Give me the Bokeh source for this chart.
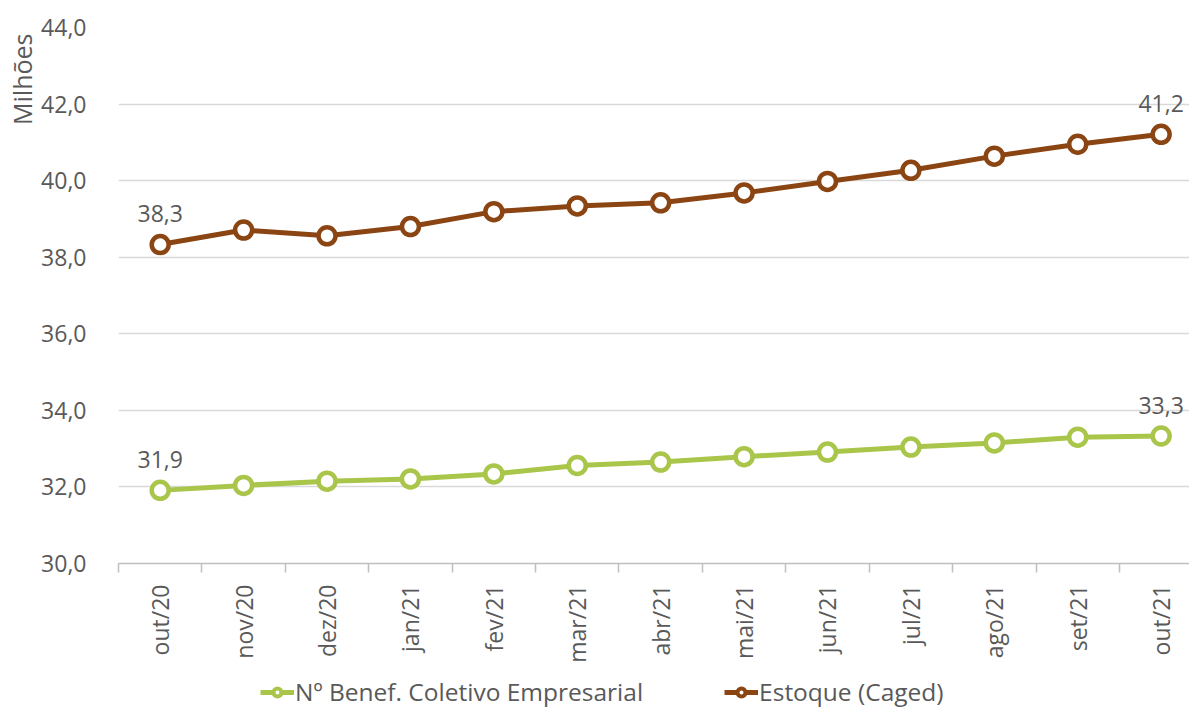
import math
from bokeh.plotting import figure
from bokeh.layouts import column
from bokeh.models import (ColumnDataSource, Range1d, FixedTicker, Legend, LegendItem, Title)
from bokeh.core.properties import value
from bokeh.embed import file_html
from bokeh.resources import INLINE

months = ["out/20", "nov/20", "dez/20", "jan/21", "fev/21", "mar/21", "abr/21",
          "mai/21", "jun/21", "jul/21", "ago/21", "set/21", "out/21"]
benef = [31.91, 32.04, 32.15, 32.21, 32.34, 32.56, 32.65, 32.79, 32.91, 33.04, 33.15, 33.30, 33.33]
estoque = [38.33, 38.71, 38.56, 38.80, 39.19, 39.34, 39.42, 39.68, 39.98, 40.27, 40.64, 40.95, 41.21]
y_ticks = [30, 32, 34, 36, 38, 40, 42, 44]
series_names = ["Nº Benef. Coletivo Empresarial", "Estoque (Caged)"]

FONT = "Open Sans"
TXT = "#595959"
GREEN = "#A9C54A"
BROWN = "#8B4513"
FS = "23px"

x = list(range(len(months)))

p = figure(width=1189, height=670, output_backend="svg", toolbar_location=None,
           x_range=Range1d(-0.5, 12.34), y_range=Range1d(30, 44),
           min_border_left=118, min_border_right=0, min_border_top=27,
           min_border_bottom=107)
p.outline_line_color = None
p.background_fill_color = "white"

# axes
p.xaxis.ticker = FixedTicker(ticks=x, minor_ticks=[i - 0.5 for i in range(len(months) + 1)])
p.xaxis.major_label_overrides = {i: m for i, m in enumerate(months)}
p.xaxis.major_label_orientation = math.pi / 2
p.xaxis.major_tick_line_color = None
p.xaxis.minor_tick_in = 0
p.xaxis.minor_tick_out = 9
p.xaxis.minor_tick_line_color = "#BFBFBF"
p.xaxis.minor_tick_line_width = 1.5
p.xaxis.axis_line_color = "#BFBFBF"
p.xaxis.axis_line_width = 1.5
p.xaxis.major_label_text_font = FONT
p.xaxis.major_label_text_font_size = FS
p.xaxis.major_label_text_color = TXT
p.xaxis.major_label_standoff = 12

p.yaxis.ticker = FixedTicker(ticks=y_ticks)
p.yaxis.major_label_overrides = {t: f"{t:.1f}".replace(".", ",") for t in y_ticks}
p.yaxis.axis_line_color = None
p.yaxis.major_tick_line_color = None
p.yaxis.minor_tick_line_color = None
p.yaxis.major_label_text_font = FONT
p.yaxis.major_label_text_font_size = FS
p.yaxis.major_label_text_color = TXT
p.yaxis.major_label_standoff = 26

p.xgrid.grid_line_color = None
p.ygrid.grid_line_color = "#D9D9D9"
p.ygrid.grid_line_width = 1.5

src = ColumnDataSource(dict(x=x, benef=benef, estoque=estoque))

p.line("x", "benef", source=src, line_color=GREEN, line_width=5)
p.scatter("x", "benef", source=src, size=17, line_color=GREEN, line_width=4.5,
          fill_color="white")
p.line("x", "estoque", source=src, line_color=BROWN, line_width=5)
p.scatter("x", "estoque", source=src, size=17, line_color=BROWN, line_width=4.5,
          fill_color="white")

# data labels on first and last points
lab_idx = [0, len(months) - 1]
lab_x = [x[i] for i in lab_idx] * 2
lab_y = [benef[i] for i in lab_idx] + [estoque[i] for i in lab_idx]
lab_t = [f"{v:.1f}".replace(".", ",") for v in lab_y]
lsrc = ColumnDataSource(dict(x=lab_x, y=lab_y, t=lab_t))
p.text("x", "y", text="t", source=lsrc, y_offset=-31, text_align="center",
       text_baseline="middle", text_font=value(FONT), text_font_size=FS,
       text_color=TXT)

# y axis title at top-left
p.add_layout(Title(text="Milhões", align="right", text_font=FONT, text_font_size="25px",
                   text_color=TXT, text_font_style="normal", standoff=0, offset=6), "left")

# legend in a separate strip below
q = figure(width=1189, height=41, output_backend="svg", toolbar_location=None,
           x_range=Range1d(0, 1), y_range=Range1d(0, 1), min_border=0,
           x_axis_location=None, y_axis_location=None)
q.grid.visible = False
q.outline_line_color = None
items = []
for name, col in zip(series_names, [GREEN, BROWN]):
    lr = q.line(x=[-5, -4], y=[-5, -4], line_color=col, line_width=5)
    sr = q.scatter(x=[-5], y=[-5], size=12, line_color=col, line_width=4, fill_color="white")
    items.append(LegendItem(label=name, renderers=[lr, sr]))
legend = Legend(items=items, orientation="horizontal", location=(142, 3),
                label_text_font=FONT, label_text_font_size="24.5px", label_text_color=TXT,
                glyph_width=34, label_standoff=1, spacing=81, border_line_color=None,
                background_fill_alpha=0, padding=2, margin=0)
q.add_layout(legend, "center")

open("out.html", "w").write(file_html(column(p, q, spacing=0), INLINE))
